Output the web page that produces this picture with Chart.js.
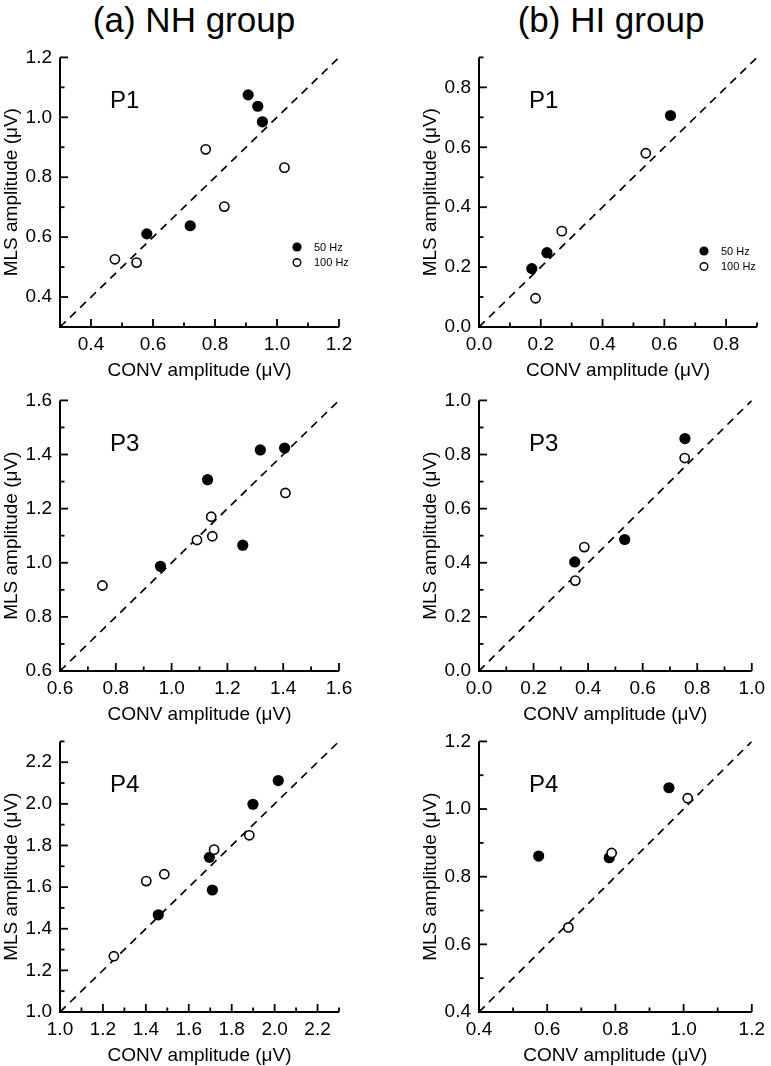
<!DOCTYPE html>
<html>
<head>
<meta charset="utf-8">
<script src="https://cdn.jsdelivr.net/npm/chart.js@4"></script>
<style>
  html, body { margin: 0; padding: 0; background: #fff; overflow: hidden; }
  body { width: 771px; height: 1066px; position: relative; font-family: "Liberation Sans", Arial, sans-serif; }
  .group { position: absolute; top: 2px; font-size: 35px; line-height: 35px; white-space: nowrap; transform: translateX(-50%); color: #000; }
  canvas { position: absolute; }
</style>
</head>
<body>
<div class="group" style="left:194px">(a) NH group</div>
<div class="group" style="left:611px">(b) HI group</div>

<canvas id="nhP1" width="385" height="344" style="left:0;top:38px"></canvas>
<canvas id="hiP1" width="352" height="344" style="left:419px;top:38px"></canvas>
<canvas id="nhP3" width="385" height="345" style="left:0;top:381px"></canvas>
<canvas id="hiP3" width="352" height="345" style="left:419px;top:381px"></canvas>
<canvas id="nhP4" width="385" height="345" style="left:0;top:722px"></canvas>
<canvas id="hiP4" width="352" height="345" style="left:419px;top:722px"></canvas>

<script>
// axis ranges and labelled ticks (same for CONV and MLS axes)
const nhP1Range = [0.3, 1.2];
const nhP1Ticks = [0.4, 0.6, 0.8, 1.0, 1.2];
const hiP1Range = [0.0, 0.9];
const hiP1Ticks = [0.0, 0.2, 0.4, 0.6, 0.8];
const nhP3Range = [0.6, 1.6];
const nhP3Ticks = [0.6, 0.8, 1.0, 1.2, 1.4, 1.6];
const hiP3Range = [0.0, 1.0];
const hiP3Ticks = [0.0, 0.2, 0.4, 0.6, 0.8, 1.0];
const nhP4Range = [1.0, 2.3];
const nhP4Ticks = [1.0, 1.2, 1.4, 1.6, 1.8, 2.0, 2.2];
const hiP4Range = [0.4, 1.2];
const hiP4Ticks = [0.4, 0.6, 0.8, 1.0, 1.2];

// NH group, P1
const nhP1Conv50 = [0.58, 0.72, 0.907, 0.938, 0.953];
const nhP1Mls50 = [0.611, 0.638, 1.075, 1.037, 0.985];
const nhP1Conv100 = [0.477, 0.547, 0.77, 0.83, 1.024];
const nhP1Mls100 = [0.526, 0.515, 0.893, 0.702, 0.832];
// HI group, P1
const hiP1Conv50 = [0.171, 0.22, 0.62];
const hiP1Mls50 = [0.195, 0.248, 0.706];
const hiP1Conv100 = [0.183, 0.268, 0.54];
const hiP1Mls100 = [0.096, 0.32, 0.58];
// NH group, P3
const nhP3Conv50 = [0.96, 1.129, 1.255, 1.318, 1.405];
const nhP3Mls50 = [0.987, 1.307, 1.065, 1.417, 1.424];
const nhP3Conv100 = [0.752, 1.091, 1.142, 1.146, 1.408];
const nhP3Mls100 = [0.916, 1.084, 1.17, 1.098, 1.258];
// HI group, P3
const hiP3Conv50 = [0.351, 0.534, 0.755];
const hiP3Mls50 = [0.403, 0.486, 0.859];
const hiP3Conv100 = [0.353, 0.386, 0.754];
const hiP3Mls100 = [0.334, 0.458, 0.787];
// NH group, P4
const nhP4Conv50 = [1.458, 1.696, 1.71, 1.899, 2.017];
const nhP4Mls50 = [1.467, 1.743, 1.586, 1.998, 2.112];
const nhP4Conv100 = [1.251, 1.402, 1.486, 1.718, 1.882];
const nhP4Mls100 = [1.268, 1.629, 1.662, 1.78, 1.849];
// HI group, P4
const hiP4Conv50 = [0.575, 0.782, 0.957];
const hiP4Mls50 = [0.861, 0.856, 1.063];
const hiP4Conv100 = [0.662, 0.789, 1.012];
const hiP4Mls100 = [0.65, 0.87, 1.032];

const FONT = '"Liberation Sans", Arial, sans-serif';
Chart.defaults.font.family = FONT;
Chart.defaults.color = '#000';

function tickText(major) {
  return v => major.some(m => Math.abs(m - v) < 1e-6) ? v.toFixed(1) : '';
}

// inward ticks, left/bottom axis lines, panel name and small legend
const panelAxes = {
  id: 'panelAxes',
  afterDraw(chart, args, opts) {
    const { ctx, chartArea: a, scales: { x, y } } = chart;
    const seg = (x1, y1, x2, y2) => { ctx.beginPath(); ctx.moveTo(x1, y1); ctx.lineTo(x2, y2); ctx.stroke(); };
    ctx.save();
    ctx.strokeStyle = '#000';
    ctx.lineWidth = 1.8;
    x.ticks.forEach(t => {
      const px = x.getPixelForValue(t.value);
      seg(px, a.bottom, px, a.bottom - (t.label ? 8 : 4.5));
    });
    y.ticks.forEach(t => {
      const py = y.getPixelForValue(t.value);
      seg(a.left, py, a.left + (t.label ? 8 : 4.5), py);
    });
    ctx.lineWidth = 2;
    seg(a.left, a.top, a.left, a.bottom + 1);
    seg(a.left - 1, a.bottom, a.right, a.bottom);

    ctx.fillStyle = '#000';
    ctx.font = '24px ' + FONT;
    ctx.textBaseline = 'alphabetic';
    ctx.fillText(opts.name, a.left + 50, a.top + 51);

    if (opts.legend) {
      const mx = a.right - opts.legend[0];
      let my = a.bottom - opts.legend[1];
      ctx.font = '11px ' + FONT;
      ctx.textBaseline = 'middle';
      ['50 Hz', '100 Hz'].forEach(name => {
        const ds = chart.data.datasets.find(d => d.label === name);
        ctx.beginPath();
        if (ds.pointBorderWidth) {
          ctx.arc(mx, my, 3.8, 0, Math.PI * 2);
          ctx.fillStyle = '#fff';
          ctx.fill();
          ctx.lineWidth = 1.4;
          ctx.stroke();
        } else {
          ctx.arc(mx, my, 4.6, 0, Math.PI * 2);
          ctx.fillStyle = '#000';
          ctx.fill();
        }
        ctx.fillStyle = '#000';
        ctx.fillText(name, mx + 17, my + 0.5);
        my += 15.5;
      });
    }
    ctx.restore();
  }
};

function makePanel(id, name, range, major, conv50, mls50, conv100, mls100, padRight, legend) {
  const pts = (xs, ys) => xs.map((v, i) => ({ x: v, y: ys[i] }));
  const axis = (title, isX) => ({
    type: 'linear',
    min: range[0],
    max: range[1],
    afterFit: s => { if (isX) s.height = 55; else s.width = 60; },
    grid: { display: false, drawTicks: false },
    border: { display: false },
    ticks: {
      stepSize: 0.1, autoSkip: false, maxRotation: 0,
      padding: isX ? 6 : 8,
      font: { size: 19 },
      color: '#000',
      callback: tickText(major)
    },
    title: { display: true, text: title, font: { size: 19 }, color: '#000', padding: 0 }
  });
  new Chart(document.getElementById(id), {
    type: 'scatter',
    data: {
      datasets: [
        { label: '100 Hz', data: pts(conv100, mls100), pointRadius: 4.6, pointHoverRadius: 4.6,
          pointBorderWidth: 1.6, pointBackgroundColor: '#fff', pointBorderColor: '#000', order: 1 },
        { label: '50 Hz', data: pts(conv50, mls50), pointRadius: 5.6, pointHoverRadius: 5.6,
          pointBorderWidth: 0, pointBackgroundColor: '#000', pointBorderColor: '#000', order: 2 },
        { label: 'unity', type: 'line', data: [{ x: range[0], y: range[0] }, { x: range[1], y: range[1] }],
          borderColor: '#000', borderWidth: 1.7, borderDash: [8, 6], pointRadius: 0, fill: false, order: 3 }
      ]
    },
    options: {
      responsive: false,
      animation: false,
      layout: { padding: { top: 12, right: padRight, bottom: 0, left: 0 } },
      plugins: {
        legend: { display: false },
        tooltip: { enabled: false },
        panelAxes: { name: name, legend: legend }
      },
      scales: {
        x: axis('CONV amplitude (μV)', true),
        y: axis('MLS amplitude (μV)', false)
      }
    },
    plugins: [panelAxes]
  });
}

makePanel('nhP1', 'P1', nhP1Range, nhP1Ticks, nhP1Conv50, nhP1Mls50, nhP1Conv100, nhP1Mls100, 46, [42, 80]);
makePanel('hiP1', 'P1', hiP1Range, hiP1Ticks, hiP1Conv50, hiP1Mls50, hiP1Conv100, hiP1Mls100, 14, [53, 76]);
makePanel('nhP3', 'P3', nhP3Range, nhP3Ticks, nhP3Conv50, nhP3Mls50, nhP3Conv100, nhP3Mls100, 46, null);
makePanel('hiP3', 'P3', hiP3Range, hiP3Ticks, hiP3Conv50, hiP3Mls50, hiP3Conv100, hiP3Mls100, 14, null);
makePanel('nhP4', 'P4', nhP4Range, nhP4Ticks, nhP4Conv50, nhP4Mls50, nhP4Conv100, nhP4Mls100, 46, null);
makePanel('hiP4', 'P4', hiP4Range, hiP4Ticks, hiP4Conv50, hiP4Mls50, hiP4Conv100, hiP4Mls100, 14, null);
</script>
</body>
</html>
